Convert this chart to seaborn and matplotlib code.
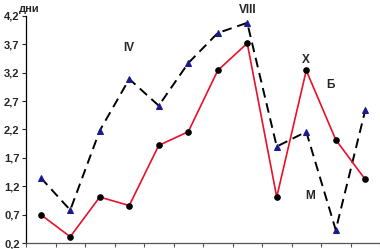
import numpy as np
import pandas as pd
import seaborn as sns
import matplotlib.pyplot as plt

# ------------------ Datos ------------------
meses = list(range(1, 13))
serie_b = [0.70, 0.31, 1.01, 0.86, 1.92, 2.16, 3.24, 3.72, 1.01, 3.24, 2.02, 1.32]
serie_m = [1.35, 0.78, 2.18, 3.09, 2.62, 3.37, 3.90, 4.08, 1.90, 2.16, 0.43, 2.54]
yticks = [0.2, 0.7, 1.2, 1.7, 2.2, 2.7, 3.2, 3.7, 4.2]

df = pd.DataFrame({"mes": meses, "Б": serie_b, "М": serie_m})

sns.set_style("white")
plt.rcParams['font.family'] = ['Liberation Sans', 'DejaVu Sans']

fig = plt.figure(figsize=(3.8, 2.49), dpi=100)
ax = fig.add_axes([26 / 380, 6 / 249, 354 / 380, 227 / 249])

# Serie M: linea discontinua negra con triangulos azules
sns.lineplot(data=df, x="mes", y="М", ax=ax, color="black", linewidth=1.4,
             dashes=False, linestyle=(0, (5, 3)), marker="^", markersize=4.5,
             markerfacecolor="#1a1a8c", markeredgecolor="#1a1a8c")
# Serie Б: linea roja con circulos negros
sns.lineplot(data=df, x="mes", y="Б", ax=ax, color="#e8102a", linewidth=1.2,
             marker="o", markersize=4, markerfacecolor="black",
             markeredgecolor="black")

ax.set_xlim(0.5, 12.5)
ax.set_ylim(0.2, 4.2)
ax.set_xticks(np.arange(0.5, 13, 1))
ax.set_xticklabels([])
ax.set_yticks(yticks)
ax.set_yticklabels([f"{v:.1f}".replace(".", ",") for v in yticks],
                   fontsize=8, fontweight="bold")
ax.set_xlabel("")
ax.set_ylabel("")
ax.tick_params(axis="both", direction="out", length=3, width=0.8,
               left=True, bottom=True, pad=1.5)
ax.tick_params(axis="x", colors="#555555")

sns.despine(ax=ax)
ax.spines["left"].set_color("black")
ax.spines["left"].set_linewidth(0.9)
ax.spines["bottom"].set_color("#555555")
ax.spines["bottom"].set_linewidth(0.9)

# Etiquetas
ax.text(0.6, 4.33, "дни", fontsize=8, fontweight="bold", ha="center", va="center", clip_on=False)
ax.text(4, 3.63, "IV", fontsize=8.5, fontweight="bold", ha="center", va="center")
ax.text(8, 4.3, "VIII", fontsize=8.5, fontweight="bold", ha="center", va="center", clip_on=False)
ax.text(10, 3.43, "X", fontsize=8.5, fontweight="bold", ha="center", va="center")
ax.text(10.82, 2.98, "Б", fontsize=8.5, fontweight="bold", ha="center", va="center")
ax.text(10.14, 1.03, "M", fontsize=8.5, fontweight="bold", ha="center", va="center")

fig.savefig("out.png", dpi=100)
